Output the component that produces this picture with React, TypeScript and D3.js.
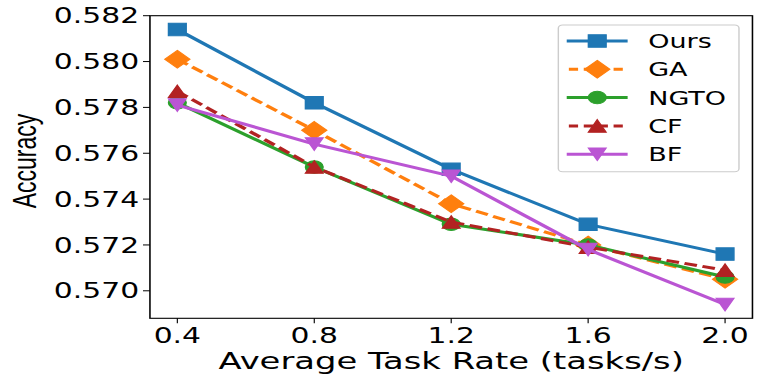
import React from "react";
import * as d3 from "d3";

const rates = [0.4, 0.8, 1.2, 1.6, 2.0];
const xTickLabels = ["0.4", "0.8", "1.2", "1.6", "2.0"];
const yTicks = [0.57, 0.572, 0.574, 0.576, 0.578, 0.58, 0.582];

const ours = [0.5814, 0.5782, 0.5753, 0.5729, 0.5716];
const ga = [0.5801, 0.577, 0.5738, 0.572, 0.5705];
const ngto = [0.5782, 0.5754, 0.5729, 0.572, 0.5706];
const cf = [0.5787, 0.5754, 0.5730, 0.5719, 0.5709];
const bf = [0.5781, 0.5764, 0.5750, 0.5718, 0.5694];

const seriesNames = ["Ours", "GA", "NGTO", "CF", "BF"];
const seriesColors = ["#1f77b4", "#ff7f0e", "#2ca02c", "#b22222", "#ba55d3"];
const seriesMarkers = ["square", "diamond", "circle", "triUp", "triDown"];
const seriesDashed = [false, true, false, true, false];
const seriesValues = [ours, ga, ngto, cf, bf];

const SX = 1.42;
const W = 765;
const H = 382;
const VW = W / SX;

const plot = { left: 105.6, right: 529.9, top: 15.7, bottom: 318.3 };
const MS = 12.5;

function markerPath(type: string, cx: number, cy: number): string {
  const h = MS / 2;
  const p = d3.path();
  if (type === "square") {
    p.rect(cx - h, cy - h, MS, MS);
  } else if (type === "diamond") {
    const d = h * Math.SQRT2;
    p.moveTo(cx, cy - d);
    p.lineTo(cx + d, cy);
    p.lineTo(cx, cy + d);
    p.lineTo(cx - d, cy);
    p.closePath();
  } else if (type === "circle") {
    p.moveTo(cx + h, cy);
    p.arc(cx, cy, h, 0, Math.PI * 2);
  } else if (type === "triUp") {
    p.moveTo(cx, cy - h);
    p.lineTo(cx + h, cy + h);
    p.lineTo(cx - h, cy + h);
    p.closePath();
  } else {
    p.moveTo(cx, cy + h);
    p.lineTo(cx + h, cy - h);
    p.lineTo(cx - h, cy - h);
    p.closePath();
  }
  return p.toString();
}

export default function App() {
  const x = d3.scaleLinear().domain([0.32, 2.08]).range([plot.left, plot.right]);
  const y = d3.scaleLinear().domain([0.5688, 0.582]).range([plot.bottom, plot.top]);
  const line = d3
    .line<number>()
    .x((_, i) => x(rates[i]))
    .y((v) => y(v));

  const tickFont = "DejaVu Sans";
  const legend = { left: 393.2, right: 520.4, top: 25, bottom: 171.7 };
  const legendRow0 = 41;
  const legendStep = 28.3;

  return (
    <svg
      width={W}
      height={H}
      viewBox={`0 0 ${VW} ${H}`}
      preserveAspectRatio="none"
      style={{ position: "absolute", left: 0, top: 0, display: "block", background: "#fff" }}
    >
      <rect x={0} y={0} width={VW} height={H} fill="#fff" />
      {seriesValues.map((vals, si) => (
        <g key={seriesNames[si]}>
          <path
            d={line(vals) || ""}
            fill="none"
            stroke={seriesColors[si]}
            strokeWidth={3}
            strokeDasharray={seriesDashed[si] ? "9,4" : undefined}
            strokeLinejoin="round"
          />
          {vals.map((v, i) => (
            <path
              key={i}
              d={markerPath(seriesMarkers[si], x(rates[i]), y(v))}
              fill={seriesColors[si]}
              stroke={seriesColors[si]}
              strokeWidth={1}
            />
          ))}
        </g>
      ))}
      <rect
        x={plot.left}
        y={plot.top}
        width={plot.right - plot.left}
        height={plot.bottom - plot.top}
        fill="none"
        stroke="#000"
        strokeWidth={1.1}
      />
      {yTicks.map((t) => (
        <g key={t}>
          <line x1={plot.left - 4.9} x2={plot.left} y1={y(t)} y2={y(t)} stroke="#000" strokeWidth={1} />
          <text
            x={98}
            y={y(t) + 0.3645 * 21}
            textAnchor="end"
            fontFamily={tickFont}
            fontSize={21}
            fill="#000"
          >
            {t.toFixed(3)}
          </text>
        </g>
      ))}
      {rates.map((r, i) => (
        <g key={r}>
          <line x1={x(r)} x2={x(r)} y1={plot.bottom} y2={plot.bottom + 4.9} stroke="#000" strokeWidth={0.8} />
          <text x={x(r)} y={343.3} textAnchor="middle" fontFamily={tickFont} fontSize={21} fill="#000">
            {xTickLabels[i]}
          </text>
        </g>
      ))}
      <text
        x={(plot.left + plot.right) / 2}
        y={369}
        textAnchor="middle"
        fontFamily={tickFont}
        fontSize={23.8}
        fill="#000"
      >
        Average Task Rate (tasks/s)
      </text>
      <text
        transform={`translate(25.7, 161) rotate(-90)`}
        textAnchor="middle"
        fontFamily="Liberation Sans"
        fontSize={23}
        fill="#000"
      >
        Accuracy
      </text>
      <rect
        x={legend.left}
        y={legend.top}
        width={legend.right - legend.left}
        height={legend.bottom - legend.top}
        rx={3}
        ry={3}
        fill="#fff"
        fillOpacity={0.8}
        stroke="#cccccc"
        strokeWidth={1}
      />
      {seriesNames.map((name, si) => {
        const ry = legendRow0 + si * legendStep;
        return (
          <g key={name}>
            <line
              x1={399.1}
              x2={442}
              y1={ry}
              y2={ry}
              stroke={seriesColors[si]}
              strokeWidth={3}
              strokeDasharray={seriesDashed[si] ? "6.5,4" : undefined}
              strokeDashoffset={seriesDashed[si] ? -1.5 : undefined}
            />
            <path
              d={markerPath(seriesMarkers[si], 420.6, ry)}
              fill={seriesColors[si]}
              stroke={seriesColors[si]}
              strokeWidth={1}
            />
            <text
              x={456.5}
              y={ry + 0.3645 * 19}
              fontFamily={tickFont}
              fontSize={19}
              fill="#000"
            >
              {name}
            </text>
          </g>
        );
      })}
    </svg>
  );
}
